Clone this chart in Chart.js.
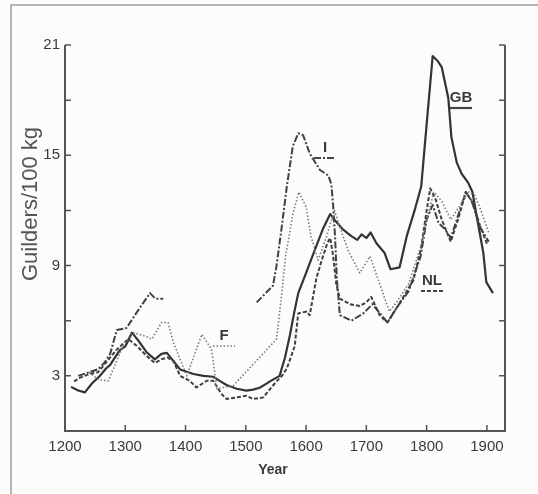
<!DOCTYPE html>
<html>
<head>
<meta charset="utf-8">
<script src="https://cdn.jsdelivr.net/npm/chart.js@4.4.1/dist/chart.umd.min.js"></script>
<style>
  html, body { margin: 0; padding: 0; background: #fcfcfa; }
  canvas { display: block; }
</style>
</head>
<body>
<canvas id="priceChart" width="538" height="494"></canvas>
<script>
// tick values
const xTickLabels = [1200, 1300, 1400, 1500, 1600, 1700, 1800, 1900];
const yTickLabels = [3, 9, 15, 21];
const yMinorTicks = [6, 12, 18];

// GB (solid)
const gbYears = [1210, 1222, 1233, 1245, 1258, 1268, 1275, 1283, 1291, 1300, 1311, 1322, 1335, 1349, 1360, 1369, 1380, 1391, 1413, 1430, 1446, 1458, 1468, 1485, 1501, 1512, 1523, 1533, 1540, 1556, 1565, 1573, 1580, 1587, 1600, 1615, 1628, 1640, 1647, 1660, 1675, 1685, 1692, 1700, 1707, 1717, 1730, 1740, 1755, 1767, 1780, 1791, 1800, 1810, 1819, 1825, 1836, 1841, 1850, 1858, 1869, 1876, 1883, 1894, 1899, 1910];
const gbValues = [2.4, 2.2, 2.1, 2.6, 3.0, 3.4, 3.6, 4.0, 4.4, 4.6, 5.35, 4.9, 4.3, 3.9, 4.2, 4.25, 3.8, 3.35, 3.1, 3.0, 2.95, 2.7, 2.5, 2.3, 2.2, 2.25, 2.35, 2.55, 2.7, 3.0, 4.0, 5.2, 6.4, 7.5, 8.6, 9.9, 11.0, 11.8, 11.5, 11.0, 10.6, 10.4, 10.7, 10.5, 10.8, 10.2, 9.7, 8.8, 8.9, 10.6, 12.0, 13.3, 16.7, 20.4, 20.1, 19.8, 18.1, 16.0, 14.6, 14.0, 13.5, 13.0, 11.7, 9.7, 8.1, 7.5];

// I (dash-dot), gap between the two segments
const iYears = [1222, 1240, 1255, 1265, 1275, 1286, 1302, 1320, 1341, 1350, 1363, 1440, 1518, 1530, 1545, 1551, 1560, 1568, 1578, 1587, 1595, 1606, 1623, 1637, 1642, 1645, 1648, 1651, 1656, 1675, 1695, 1710, 1735, 1750, 1770, 1790, 1800, 1810, 1820, 1830, 1840, 1850, 1865, 1875, 1890, 1903];
const iValues = [3.0, 3.2, 3.36, 3.7, 4.2, 5.5, 5.6, 6.5, 7.5, 7.2, 7.2, null, 7.0, 7.4, 7.9, 9.0, 11.2, 13.3, 15.5, 16.2, 16.1, 15.1, 14.2, 13.9, 13.4, 12.2, 10.6, 8.3, 6.3, 6.0, 6.4, 6.9, 5.9, 6.7, 7.6, 9.5, 11.5, 12.3, 11.3, 11.0, 10.5, 11.5, 13.0, 12.5, 11.0, 10.3];

// NL (dashed)
const nlYears = [1215, 1225, 1240, 1255, 1265, 1275, 1285, 1295, 1305, 1320, 1335, 1349, 1360, 1370, 1380, 1391, 1407, 1418, 1435, 1446, 1460, 1468, 1485, 1501, 1512, 1529, 1540, 1551, 1560, 1568, 1581, 1587, 1601, 1606, 1617, 1626, 1635, 1640, 1645, 1650, 1656, 1673, 1689, 1700, 1708, 1722, 1735, 1756, 1778, 1791, 1800, 1806, 1815, 1825, 1840, 1852, 1865, 1875, 1888, 1900];
const nlValues = [2.7, 2.9, 3.1, 3.2, 3.6, 4.0, 4.4, 4.7, 5.0, 4.6, 4.1, 3.7, 3.9, 4.0, 3.8, 3.0, 2.73, 2.37, 2.73, 2.73, 2.0, 1.74, 1.83, 1.92, 1.74, 1.83, 2.28, 2.7, 3.0, 3.4, 4.6, 6.4, 6.5, 6.3, 8.3, 9.3, 10.2, 10.5, 9.5, 8.0, 7.2, 6.9, 6.8, 7.0, 7.3, 6.3, 5.9, 7.0, 8.2, 10.0, 12.0, 13.2, 12.6, 11.5, 10.3, 11.5, 13.0, 12.5, 11.2, 10.2];

// F (dotted)
const fYears = [1240, 1255, 1272, 1294, 1311, 1330, 1344, 1360, 1371, 1380, 1402, 1427, 1443, 1452, 1479, 1551, 1558, 1566, 1578, 1588, 1600, 1608, 1620, 1634, 1647, 1657, 1670, 1689, 1706, 1720, 1738, 1750, 1770, 1790, 1800, 1812, 1825, 1840, 1860, 1870, 1880, 1890, 1903];
const fValues = [3.2, 2.8, 2.73, 4.45, 5.36, 5.2, 5.0, 5.9, 5.9, 4.8, 3.0, 5.26, 4.45, 2.3, 2.46, 5.0, 7.0, 9.5, 11.8, 13.0, 12.2, 10.6, 9.3, 10.6, 12.0, 11.0, 9.8, 8.6, 9.5, 8.2, 6.5, 7.0, 8.0, 10.0, 11.5, 13.0, 12.5, 11.5, 12.5, 13.0, 12.8, 12.0, 10.8];

function toPoints(years, values) {
  return years.map(function (yr, i) {
    return { x: yr, y: values[i] };
  });
}

const ink = "#3a3a3a";
Chart.defaults.font.family = "'Liberation Sans', sans-serif";
Chart.defaults.color = ink;

// axes frame, inward ticks, titles and series labels
const decor = {
  id: "decor",
  beforeDraw: function (chart) {
    const c = chart.ctx;
    c.save();
    c.fillStyle = "#fcfcfa";
    c.fillRect(0, 0, chart.width, chart.height);
    c.strokeStyle = "#b4b4b4";
    c.lineWidth = 2;
    c.beginPath();
    c.moveTo(11, chart.height);
    c.lineTo(11, 5);
    c.lineTo(chart.width, 5);
    c.stroke();
    c.restore();
  },
  afterDraw: function (chart) {
    const c = chart.ctx;
    const xs = chart.scales.x;
    const ys = chart.scales.y;
    const a = chart.chartArea;
    c.save();
    c.strokeStyle = "#555";
    c.lineWidth = 2;
    c.beginPath();
    c.moveTo(a.left, ys.getPixelForValue(21));
    c.lineTo(a.left, a.bottom);
    c.lineTo(a.right, a.bottom);
    c.lineTo(a.right, ys.getPixelForValue(21));
    c.stroke();

    c.lineWidth = 1.5;
    c.beginPath();
    yTickLabels.concat(yMinorTicks).forEach(function (v) {
      const py = ys.getPixelForValue(v);
      c.moveTo(a.left, py);
      c.lineTo(a.left + 6, py);
      c.moveTo(a.right, py);
      c.lineTo(a.right - 6, py);
    });
    xTickLabels.slice(1).forEach(function (v) {
      const px = xs.getPixelForValue(v);
      c.moveTo(px, a.bottom);
      c.lineTo(px, a.bottom - 6);
    });
    c.stroke();

    // axis titles
    c.fillStyle = "#555";
    c.font = "22px 'Liberation Sans', sans-serif";
    c.textAlign = "center";
    c.textBaseline = "middle";
    c.save();
    c.translate(31, 204);
    c.rotate(-Math.PI / 2);
    c.fillText("Guilders/100 kg", 0, 0);
    c.restore();

    c.fillStyle = ink;
    c.font = "bold 14px 'Liberation Sans', sans-serif";
    c.fillText("Year", 273, 470);

    // series labels with line-style underlines
    const labels = [
      { t: "GB", x: 461, y: 98, dash: [], w: 2.2 },
      { t: "I", x: 325, y: 148, dash: [7, 2, 2, 2], w: 2 },
      { t: "F", x: 224, y: 336, dash: [1.5, 2], w: 1.5 },
      { t: "NL", x: 432, y: 281, dash: [4, 2], w: 2 }
    ];
    c.font = "bold 15px 'Liberation Sans', sans-serif";
    labels.forEach(function (l) {
      c.fillStyle = ink;
      c.fillText(l.t, l.x, l.y);
      c.strokeStyle = l.t === "F" ? "#777" : "#444";
      c.lineWidth = l.w;
      c.setLineDash(l.dash);
      c.beginPath();
      c.moveTo(l.x - 11, l.y + 10);
      c.lineTo(l.x + 11, l.y + 10);
      c.stroke();
    });
    c.restore();
  }
};

const ctx = document.getElementById("priceChart").getContext("2d");
new Chart(ctx, {
  type: "line",
  data: {
    datasets: [
      {
        label: "F",
        data: toPoints(fYears, fValues),
        borderColor: "#7a7a7a",
        borderWidth: 1.6,
        borderDash: [1.5, 2],
      },
      {
        label: "I",
        data: toPoints(iYears, iValues),
        borderColor: "#404040",
        borderWidth: 2,
        borderDash: [7, 2, 2, 2],
        spanGaps: false,
      },
      {
        label: "NL",
        data: toPoints(nlYears, nlValues),
        borderColor: "#404040",
        borderWidth: 2,
        borderDash: [4, 2],
      },
      {
        label: "GB",
        data: toPoints(gbYears, gbValues),
        borderColor: "#333",
        borderWidth: 2.2,
      },
    ],
  },
  options: {
    responsive: false,
    animation: false,
    elements: {
      point: { radius: 0 },
      line: { tension: 0, borderJoinStyle: "round" },
    },
    layout: { padding: { top: 45, right: 33, left: 0, bottom: 0 } },
    plugins: {
      legend: { display: false },
      tooltip: { enabled: false },
    },
    scales: {
      x: {
        type: "linear",
        min: 1200,
        max: 1930,
        grid: { display: false, drawTicks: false },
        border: { display: false },
        afterFit: function (scale) {
          scale.height = 63;
        },
        afterBuildTicks: function (scale) {
          scale.ticks = xTickLabels.map(function (v) {
            return { value: v };
          });
        },
        ticks: {
          padding: 7,
          maxRotation: 0,
          autoSkip: false,
          color: ink,
          font: { size: 15 },
          callback: function (value) {
            return String(value);
          },
        },
      },
      y: {
        min: 0,
        max: 21,
        grid: { display: false, drawTicks: false },
        border: { display: false },
        afterFit: function (scale) {
          scale.width = 65;
        },
        afterBuildTicks: function (scale) {
          scale.ticks = yTickLabels.map(function (v) {
            return { value: v };
          });
        },
        ticks: {
          padding: 5,
          color: ink,
          font: { size: 15 },
        },
      },
    },
  },
  plugins: [decor],
});
</script>
</body>
</html>
